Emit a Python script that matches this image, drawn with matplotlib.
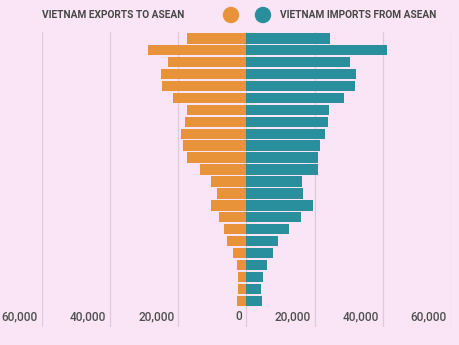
import matplotlib
matplotlib.use("Agg")
import matplotlib.pyplot as plt
from matplotlib.transforms import blended_transform_factory, ScaledTranslation
from matplotlib.patches import Circle

exports = [17570, 28780, 23040, 25180, 24800, 21580, 17370, 18150, 19130, 18640,
           17370, 13560, 10340, 8690, 10340, 8100, 6530, 5660, 4100, 2930,
           2440, 2540, 2730]
imports = [24390, 41190, 30450, 32210, 31920, 28490, 24210, 23810, 23040, 21470,
           20880, 20880, 16400, 16490, 19620, 15910, 12590, 9370, 7810, 5950,
           4880, 4200, 4490]
tick_values = [-60000, -40000, -20000, 0, 20000, 40000, 60000]
tick_labels = ["60,000", "40,000", "20,000", "0", "20,000", "40,000", "60,000"]
legend_labels = ["VIETNAM EXPORTS TO ASEAN", "VIETNAM IMPORTS FROM ASEAN"]

BG = "#f9e5f5"
ORANGE = "#e8933a"
TEAL = "#2a8f9d"
GRID = "#ddcadb"
TEXT = "#474747"

plt.rcParams['font.family'] = ['Roboto', 'DejaVu Sans']

W, H = 460, 345
fig = plt.figure(figsize=(W/100, H/100), dpi=100, facecolor=BG)
ax = fig.add_axes([42/W, 1-327/H, (451-42)/W, (327-32)/H], facecolor=BG)

n = len(exports)
ys = list(range(n))
ax.barh(ys, [-e for e in exports], height=0.87, color=ORANGE, zorder=3)
ax.barh(ys, imports, height=0.87, color=TEAL, zorder=3)

ax.set_xlim(-60000, 60000)
ax.set_ylim(n - 1 + 2.2, -0.53)
for v in tick_values:
    ax.axvline(v, color=GRID, lw=0.9, zorder=1)
for s in ax.spines.values():
    s.set_visible(False)
ax.set_xticks([])
ax.set_yticks([])

tr = blended_transform_factory(ax.transData, ax.transAxes) + ScaledTranslation(-4/100, 0, fig.dpi_scale_trans)
for v, lab in zip(tick_values, tick_labels):
    ax.text(v, (327-317)/(327-32), lab, transform=tr, ha='right', va='center',
            fontsize=8.5, fontweight='medium', color="#505050")

# legend
fig.text(42/W, 1-15/H, legend_labels[0], ha='left', va='center',
         fontsize=7.3, fontweight='bold', color=TEXT)
fig.text(280/W, 1-15/H, legend_labels[1], ha='left', va='center',
         fontsize=7.3, fontweight='bold', color=TEXT)
for cx, col in [(231, ORANGE), (263, TEAL)]:
    fig.patches.append(Circle((cx, H-15), 7.5, transform=None, color=col))

fig.savefig("out.png", dpi=100, facecolor=BG)
